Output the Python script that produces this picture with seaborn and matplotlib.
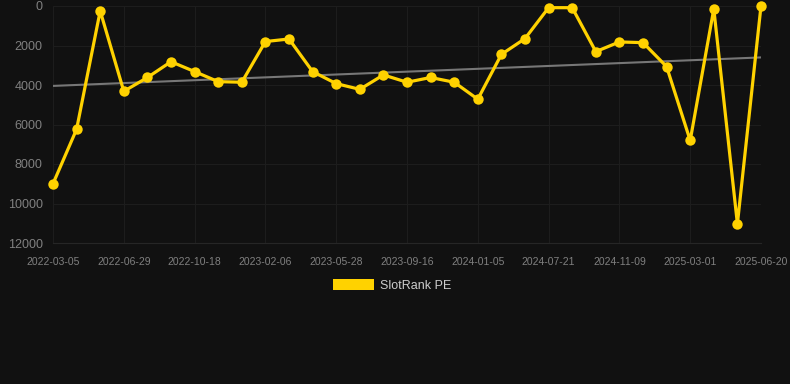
import matplotlib
matplotlib.use("Agg")
import matplotlib.pyplot as plt
from matplotlib.patches import Patch
import seaborn as sns
import numpy as np
import pandas as pd

# rank values per sample (lower = better, axis inverted)
rank_values = [9000, 6240, 250, 4320, 3620, 2820, 3320, 3830, 3860, 1800,
               1670, 3320, 3930, 4220, 3490, 3860, 3620, 3860, 4720, 2450,
               1650, 85, 85, 2310, 1820, 1855, 3070, 6810, 150, 11030, 0]
# labels shown on the x axis, one per every third sample
tick_labels = ["2022-03-05", "2022-06-29", "2022-10-18", "2023-02-06",
               "2023-05-28", "2023-09-16", "2024-01-05", "2024-07-21",
               "2024-11-09", "2025-03-01", "2025-06-20"]
y_ticks = [0, 2000, 4000, 6000, 8000, 10000, 12000]
series_name = "SlotRank PE"

BG = "#111111"
GOLD = "#FFD200"
TXT = "#808080"
GRID = "#1d1d1d"

sns.set_theme(style="dark")
plt.rcParams["font.family"] = ["Liberation Sans", "DejaVu Sans"]

df = pd.DataFrame({"idx": np.arange(len(rank_values)), "rank": rank_values})
coef = np.polyfit(df["idx"], df["rank"], 1)
df["trend"] = np.polyval(coef, df["idx"])

fig = plt.figure(figsize=(7.9, 3.84), dpi=100, facecolor=BG)
ax = fig.add_axes([53 / 790, 141 / 384, 708 / 790, 237 / 384])
ax.set_facecolor(BG)

sns.lineplot(data=df, x="idx", y="trend", ax=ax, color="#777777", linewidth=1.5)
sns.lineplot(data=df, x="idx", y="rank", ax=ax, color=GOLD, linewidth=2.3,
             marker="o", markersize=7.5, markeredgewidth=0,
             solid_joinstyle="miter", clip_on=False, zorder=5)

ax.set_xlim(0, len(rank_values) - 1)
ax.set_ylim(12000, 0)
ax.set_xticks(np.arange(0, len(rank_values), 3))
ax.set_xticklabels(tick_labels)
ax.set_yticks(y_ticks)
ax.tick_params(axis="x", colors=GRID, labelcolor=TXT, labelsize=7.5,
               length=7, width=0.8, pad=3)
ax.tick_params(axis="y", colors=GRID, labelcolor=TXT, labelsize=9,
               length=6.5, width=0.8, pad=1)
ax.grid(True, color=GRID, linewidth=0.8)
ax.set_xlabel("")
ax.set_ylabel("")
for s in ax.spines.values():
    s.set_visible(False)
ax.spines["bottom"].set_visible(True)
ax.spines["bottom"].set_color("#262626")
ax.spines["bottom"].set_linewidth(0.8)

handle = Patch(facecolor=GOLD, edgecolor="none")
fig.legend([handle], [series_name], loc="center", bbox_to_anchor=(392 / 790, 1 - 285.5 / 384),
           frameon=False, fontsize=9, labelcolor="#cccccc",
           handlelength=3.3, handleheight=1.0, handletextpad=0.5)

fig.savefig("out.png", dpi=100, facecolor=BG)
plt.close(fig)
